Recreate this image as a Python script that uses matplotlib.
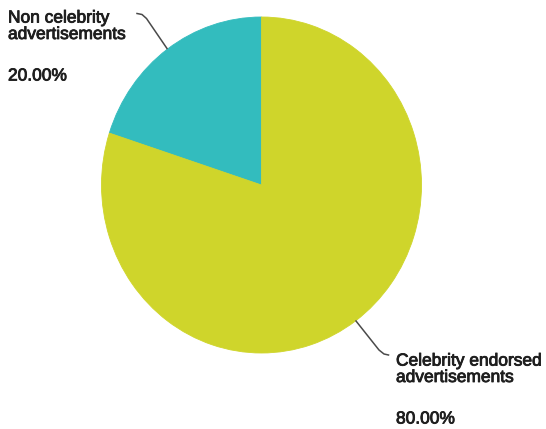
import matplotlib.pyplot as plt
import matplotlib.patheffects as pe
from matplotlib.lines import Line2D

plt.rcParams['font.family'] = ['Liberation Sans', 'DejaVu Sans']

# slice data (counter-clockwise from 12 o'clock)
labels = ["Non celebrity\nadvertisements", "Celebrity endorsed\nadvertisements"]
shares = [20.0, 80.0]
colors = ["#33BCBE", "#CFD52B"]

# label anchors (last line baseline) and leader lines, in pixels from top-left
label_pos = [(8, 39), (396, 382)]
pct_offset = 41.5
leaders = [
    [(137, 13.5), (142, 14.5), (146.5, 18.5), (167, 48.5)],
    [(356, 321), (379, 350), (384, 354), (388.5, 355)],
]

W, H = 546, 429
fig = plt.figure(figsize=(W / 100, H / 100), dpi=100)


def fx(x):
    return x / W


def fy(y):
    return 1 - y / H


ax = fig.add_axes([fx(101.5), fy(353), 320 / W, 336 / H])
wedges, _ = ax.pie(shares, colors=colors, startangle=90, counterclock=True)
for w in wedges:
    w.set_edgecolor(w.get_facecolor())
    w.set_linewidth(0.6)
ax.set_aspect('auto')
ax.set_xlim(-1, 1)
ax.set_ylim(-1, 1)
ax.axis('off')

heavy = [pe.withStroke(linewidth=0.6, foreground='#1e1e1e')]
for lab, val, (x, y), pts in zip(labels, shares, label_pos, leaders):
    fig.text(fx(x), fy(y), lab, fontsize=12.5, color='#1e1e1e',
             va='baseline', ha='left', linespacing=1.12, path_effects=heavy)
    fig.text(fx(x), fy(y + pct_offset), f"{val:.2f}%", fontsize=12.5,
             color='#1e1e1e', va='baseline', ha='left', path_effects=heavy)
    xs = [fx(p[0]) for p in pts]
    ys = [fy(p[1]) for p in pts]
    fig.add_artist(Line2D(xs, ys, transform=fig.transFigure,
                          color='#4a4a4a', linewidth=1.1))

fig.savefig('out.png', dpi=100)
